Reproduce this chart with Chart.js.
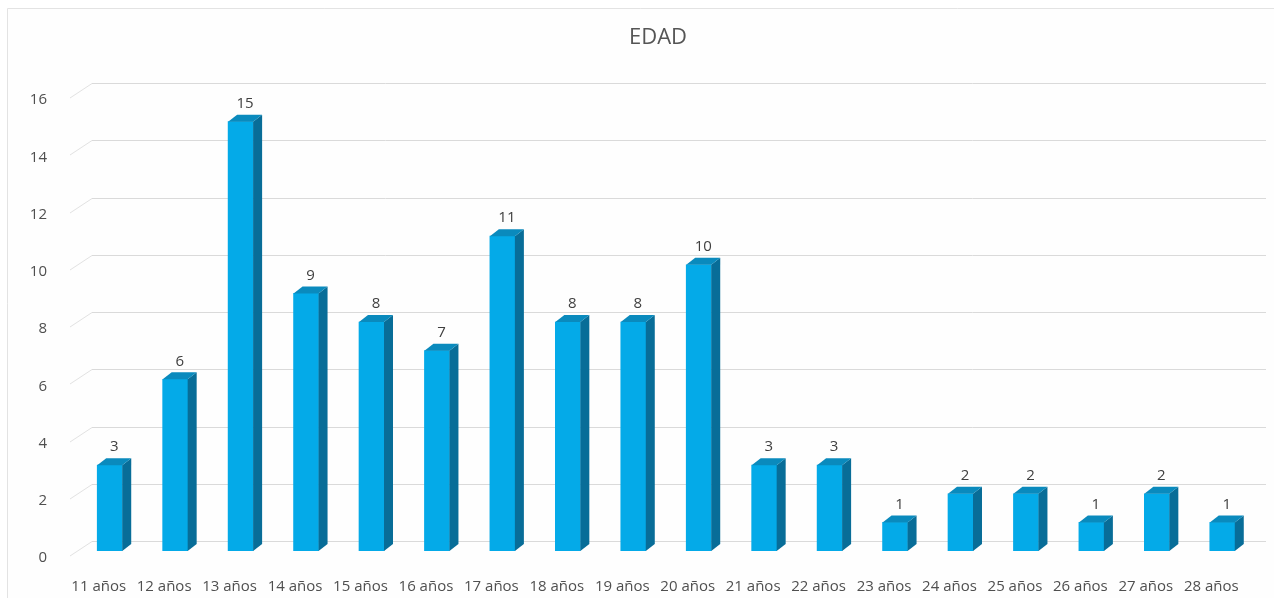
<!DOCTYPE html>
<html>
<head>
<meta charset="utf-8">
<script src="https://cdn.jsdelivr.net/npm/chart.js@4.4.1/dist/chart.umd.min.js"></script>
<style>
html,body{margin:0;padding:0;background:#ffffff;}
#wrap{width:1274px;height:598px;position:relative;}
</style>
</head>
<body>
<div id="wrap"><canvas id="c" width="1274" height="598"></canvas></div>
<script>
const chartTitle = 'EDAD';
const categories = ['11 años','12 años','13 años','14 años','15 años','16 años','17 años','18 años','19 años','20 años','21 años','22 años','23 años','24 años','25 años','26 años','27 años','28 años'];
const counts = [3,6,15,9,8,7,11,8,8,10,3,3,1,2,2,1,2,1];
const yTicks = [0,2,4,6,8,10,12,14,16];

const FRONT = '#04aae8';
const SIDE = '#086d98';
const TOP = '#0a8abd';
const DX = 9, DY = 7;
const FONT = '"Open Sans", "DejaVu Sans", sans-serif';

const frame3d = {
  id: 'frame3d',
  beforeDraw(chart) {
    const ctx = chart.ctx;
    ctx.save();
    ctx.fillStyle = '#ffffff';
    ctx.fillRect(0, 0, chart.width, chart.height);
    ctx.fillStyle = '#fefefe';
    ctx.fillRect(7.5, 8.5, chart.width, chart.height);
    ctx.strokeStyle = '#e3e3e3';
    ctx.lineWidth = 1;
    ctx.beginPath();
    ctx.moveTo(7.5, chart.height);
    ctx.lineTo(7.5, 8.5);
    ctx.lineTo(chart.width, 8.5);
    ctx.stroke();
    ctx.fillStyle = '#555555';
    ctx.font = '22px ' + FONT;
    ctx.textAlign = 'center';
    ctx.textBaseline = 'middle';
    ctx.fillText(chartTitle, 658, 38);
    ctx.restore();
  },
  beforeDatasetsDraw(chart) {
    const ctx = chart.ctx;
    const y = chart.scales.y;
    const area = chart.chartArea;
    ctx.save();
    ctx.lineWidth = 1;
    yTicks.forEach(v => {
      const py = Math.round(y.getPixelForValue(v));
      const frontY = py + 5;
      const backY = py - 10 + 0.5;
      const x0 = area.left - 7;
      const x1 = area.left + 15;
      ctx.strokeStyle = '#e2e2e2';
      ctx.beginPath();
      ctx.moveTo(x0, frontY);
      ctx.lineTo(x1, backY);
      ctx.stroke();
      ctx.strokeStyle = '#dadada';
      ctx.beginPath();
      ctx.moveTo(x1, backY);
      ctx.lineTo(chart.width - 8, backY);
      ctx.stroke();
    });
    ctx.restore();
  },
  afterDatasetsDraw(chart) {
    const ctx = chart.ctx;
    const meta = chart.getDatasetMeta(0);
    ctx.save();
    meta.data.forEach((el, i) => {
      const p = el.getProps(['x','y','base','width'], true);
      const l = p.x - p.width / 2, r = p.x + p.width / 2;
      ctx.fillStyle = SIDE;
      ctx.beginPath();
      ctx.moveTo(r, p.y);
      ctx.lineTo(r + DX, p.y - DY);
      ctx.lineTo(r + DX, p.base - DY);
      ctx.lineTo(r, p.base);
      ctx.closePath();
      ctx.fill();
      ctx.fillStyle = TOP;
      ctx.beginPath();
      ctx.moveTo(l, p.y);
      ctx.lineTo(l + DX, p.y - DY);
      ctx.lineTo(r + DX, p.y - DY);
      ctx.lineTo(r, p.y);
      ctx.closePath();
      ctx.fill();
      ctx.fillStyle = '#404040';
      ctx.font = '15px ' + FONT;
      ctx.textAlign = 'center';
      ctx.textBaseline = 'middle';
      ctx.fillText(String(counts[i]), p.x + DX / 2, p.y - 18);
    });
    ctx.restore();
  }
};

new Chart(document.getElementById('c'), {
  type: 'bar',
  data: {
    labels: categories,
    datasets: [{
      data: counts,
      backgroundColor: FRONT,
      borderWidth: 0,
      barThickness: 25
    }]
  },
  options: {
    responsive: false,
    animation: false,
    devicePixelRatio: 1,
    layout: { padding: { top: 93, right: 19, bottom: 0, left: 0 } },
    plugins: { legend: { display: false }, tooltip: { enabled: false }, title: { display: false } },
    scales: {
      x: {
        grid: { display: false },
        border: { display: false },
        ticks: { color: '#4f4f4f', font: { family: FONT, size: 15 }, padding: 19, labelOffset: -11, maxRotation: 0, autoSkip: false },
        afterFit(s) { s.height = 47; }
      },
      y: {
        min: 0, max: 16,
        afterBuildTicks(s) { s.ticks = yTicks.map(v => ({ value: v })); },
        grid: { display: false },
        border: { display: false },
        ticks: { color: '#4f4f4f', font: { family: FONT, size: 15 }, padding: 22, labelOffset: 7 },
        afterFit(s) { s.width = 77; }
      }
    }
  },
  plugins: [frame3d]
});
</script>
</body>
</html>
